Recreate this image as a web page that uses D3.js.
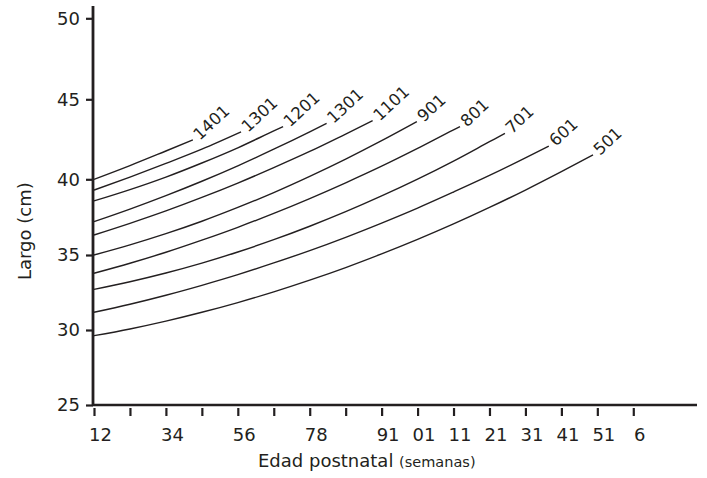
<!DOCTYPE html>
<html>
<head>
<meta charset="utf-8">
<script src="https://cdn.jsdelivr.net/npm/d3@7"></script>
<style>
  body { margin: 0; background: #fff; }
  svg text { font-family: "DejaVu Sans", sans-serif; fill: #231f20; }
</style>
</head>
<body>
<svg id="chart"></svg>
<script>
// tick positions / labels (the x labels are kept exactly as printed)
const xTicks = d3.range(16);
const xTickLabels = ["12", "", "34", "", "56", "", "78", "", "91", "01", "11", "21", "31", "41", "51", "6"];
const yTicks = [25, 30, 35, 40, 45, 50];

// curve labels, top to bottom
const curveLabels = ["1401", "1301", "1201", "1301", "1101", "901", "801", "701", "601", "501"];

// [x, largo]
const s1401 = [[0, 40.0], [1, 40.86], [2, 41.77], [2.75, 42.46]];
const s1301a = [[0, 39.29], [1, 40.14], [2, 40.99], [3, 41.88], [4.09, 42.96]];
const s1201 = [[0, 38.57], [1, 39.32], [2, 40.14], [3, 41.02], [4, 41.97], [5, 43.02], [5.26, 43.29]];
const s1301b = [[0, 37.2], [1, 38.03], [2, 38.92], [3, 39.87], [4, 40.84], [5, 41.88], [6, 42.97], [6.47, 43.5]];
const s1101 = [[0, 36.32], [1, 37.09], [2, 37.91], [3, 38.8], [4, 39.75], [5, 40.73], [6, 41.74], [7, 42.83], [7.75, 43.66]];
const s901 = [[0, 35.0], [1, 35.67], [2, 36.41], [3, 37.23], [4, 38.14], [5, 39.12], [6, 40.18], [7, 41.26], [8, 42.41], [8.98, 43.6]];
const s801 = [[0, 33.78], [1, 34.45], [2, 35.18], [3, 35.98], [4, 36.83], [5, 37.75], [6, 38.73], [7, 39.77], [8, 40.82], [9, 41.93], [10, 43.09], [10.18, 43.29]];
const s701 = [[0, 32.71], [1, 33.22], [2, 33.8], [3, 34.46], [4, 35.2], [5, 36.01], [6, 36.9], [7, 37.86], [8, 38.9], [9, 40.01], [10, 41.14], [11, 42.35], [11.43, 42.87]];
const s601 = [[0, 31.18], [1, 31.72], [2, 32.32], [3, 32.98], [4, 33.69], [5, 34.47], [6, 35.29], [7, 36.17], [8, 37.11], [9, 38.1], [10, 39.16], [11, 40.24], [12, 41.34], [12.65, 42.08]];
const s501 = [[0, 29.62], [1, 30.07], [2, 30.59], [3, 31.18], [4, 31.83], [5, 32.54], [6, 33.32], [7, 34.16], [8, 35.07], [9, 36.03], [10, 37.05], [11, 38.14], [12, 39.29], [13, 40.48], [13.88, 41.52]];

const series = [s1401, s1301a, s1201, s1301b, s1101, s901, s801, s701, s601, s501];

const width = 707, height = 478;
const ink = "#231f20";

const svg = d3.select("#chart")
  .attr("width", width)
  .attr("height", height);

const x = d3.scaleLinear()
  .domain([0, 16.8])
  .range([94, 698]);

// the printed y axis is not quite evenly spaced, so follow its ticks
const y = d3.scaleLinear()
  .domain(yTicks)
  .range([405, 330, 255, 179.3, 99.3, 18.3]);

// x axis
const xAxisG = svg.append("g")
  .attr("transform", `translate(0,${y(25)})`)
  .call(d3.axisBottom(x)
    .tickValues(xTicks)
    .tickSize(0)
    .tickFormat(i => xTickLabels[i]));

xAxisG.select(".domain").remove();
xAxisG.append("line")
  .attr("x1", x(0) - 1.5)
  .attr("x2", 697)
  .attr("stroke", ink)
  .attr("stroke-width", 2.5);
xAxisG.selectAll(".tick").append("line")
  .attr("y1", 3)
  .attr("y2", 11)
  .attr("stroke", ink)
  .attr("stroke-width", 2.2);
xAxisG.selectAll(".tick text")
  .attr("y", 36)
  .attr("dy", 0)
  .attr("dx", 6)
  .attr("font-size", "18px")
  .attr("font-family", "DejaVu Sans")
  .attr("fill", ink);

// y axis
const yAxisG = svg.append("g")
  .attr("transform", `translate(${x(0) - 1},0)`)
  .call(d3.axisLeft(y)
    .tickValues(yTicks)
    .tickSize(7)
    .tickPadding(6));

yAxisG.select(".domain").remove();
yAxisG.append("line")
  .attr("y1", 6)
  .attr("y2", y(25) + 1)
  .attr("stroke", ink)
  .attr("stroke-width", 2.8);
yAxisG.selectAll(".tick line")
  .attr("stroke", ink)
  .attr("stroke-width", 2.2);
yAxisG.selectAll(".tick text")
  .attr("font-size", "18px")
  .attr("font-family", "DejaVu Sans")
  .attr("fill", ink);

// curves
const line = d3.line()
  .x(d => x(d[0]))
  .y(d => y(d[1]))
  .curve(d3.curveMonotoneX);

svg.append("g")
  .selectAll("path")
  .data(series)
  .join("path")
  .attr("d", line)
  .attr("fill", "none")
  .attr("stroke", ink)
  .attr("stroke-width", 1.4);

// curve labels at the end of each curve
svg.append("g")
  .selectAll("text")
  .data(series)
  .join("text")
  .attr("transform", d => {
    const e = d[d.length - 1];
    return `translate(${x(e[0]) + 7},${y(e[1]) + 1}) rotate(-43)`;
  })
  .attr("font-size", "16.5px")
  .text((d, i) => curveLabels[i]);

// axis titles
svg.append("text")
  .attr("transform", `translate(31,${(y(40) + y(35)) / 2 + 14}) rotate(-90)`)
  .attr("text-anchor", "middle")
  .attr("font-size", "18px")
  .text("Largo (cm)");

const xTitle = svg.append("text")
  .attr("x", 258)
  .attr("y", 467)
  .attr("font-size", "18px");
xTitle.append("tspan").text("Edad postnatal ");
xTitle.append("tspan").attr("font-size", "14.5px").text("(semanas)");
</script>
</body>
</html>
